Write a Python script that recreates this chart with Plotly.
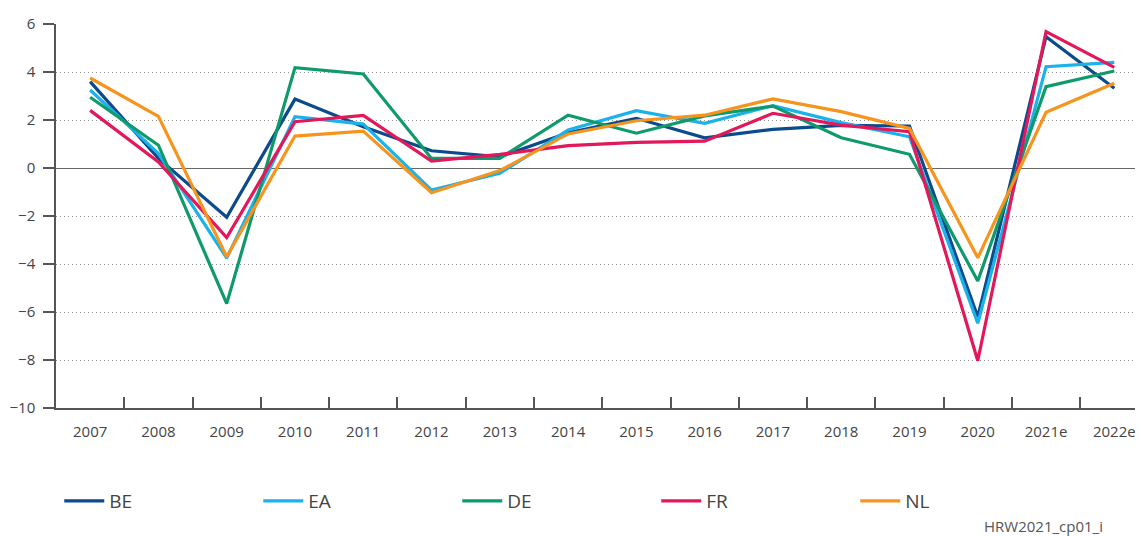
import plotly.graph_objects as go

years = ["2007", "2008", "2009", "2010", "2011", "2012", "2013", "2014",
         "2015", "2016", "2017", "2018", "2019", "2020", "2021e", "2022e"]

be = [3.6, 0.4, -2.05, 2.87, 1.72, 0.72, 0.46, 1.47, 2.07, 1.26, 1.61, 1.78, 1.75, -6.2, 5.47, 3.32]
ea = [3.25, 0.6, -3.75, 2.14, 1.83, -0.92, -0.22, 1.58, 2.39, 1.86, 2.6, 1.89, 1.3, -6.47, 4.22, 4.4]
de = [2.95, 0.95, -5.65, 4.18, 3.92, 0.4, 0.4, 2.2, 1.45, 2.17, 2.58, 1.26, 0.57, -4.71, 3.39, 4.04]
fr = [2.4, 0.25, -2.9, 1.93, 2.19, 0.29, 0.57, 0.93, 1.07, 1.12, 2.28, 1.79, 1.51, -8.03, 5.68, 4.19]
nl = [3.75, 2.15, -3.7, 1.33, 1.54, -1.03, -0.11, 1.42, 1.97, 2.2, 2.88, 2.35, 1.65, -3.74, 2.32, 3.53]

series = [
    ("BE", be, "#0b4a8b"),
    ("EA", ea, "#1ab2ea"),
    ("DE", de, "#0f9a6c"),
    ("FR", fr, "#e2185a"),
    ("NL", nl, "#f7941d"),
]

yticks = [-10, -8, -6, -4, -2, 0, 2, 4, 6]

fig = go.Figure()
for name, vals, color in series:
    fig.add_trace(go.Scatter(x=years, y=vals, name=name, mode="lines",
                             line=dict(color=color, width=3.2)))

font_family = "Open Sans, Noto Sans, sans-serif"

# the page body adds an 8px offset, so the figure is drawn 8px smaller
fig.update_layout(
    width=1135, height=528,
    margin=dict(l=48, r=0, t=16, b=128),
    paper_bgcolor="white", plot_bgcolor="white",
    font=dict(family=font_family, color="#444", size=15),
    showlegend=True,
    legend=dict(orientation="h", x=0.003, y=-0.242, xanchor="left", yanchor="middle",
                entrywidth=144, entrywidthmode="pixels",
                font=dict(size=19, color="#444"), itemwidth=40),
    xaxis=dict(type="category", range=[-0.5, 15.42], showline=True, linecolor="#555",
               linewidth=1.5, ticks="inside", tickson="boundaries", ticklen=11,
               tickcolor="#555", tickwidth=1.5, showgrid=False,
               ticklabelstandoff=9, tickfont=dict(size=15, color="#444")),
    yaxis=dict(range=[-10, 6], tickvals=yticks, showline=True, linecolor="#555",
               linewidth=1.5, ticks="outside", ticklen=11, tickcolor="#555", tickwidth=1.5,
               ticklabelstandoff=5,
               showgrid=True, gridcolor="#8f8f8f", griddash="1px,3px", gridwidth=1,
               zeroline=True, zerolinecolor="#666", zerolinewidth=1.3,
               tickfont=dict(size=15, color="#444")),
    annotations=[dict(text="HRW2021_cp01_i", xref="paper", yref="paper",
                      x=0.965, y=-0.307, xanchor="right",
                      yanchor="middle", showarrow=False,
                      font=dict(size=15, color="#555", family=font_family))],
)

fig.write_html("out.html")
